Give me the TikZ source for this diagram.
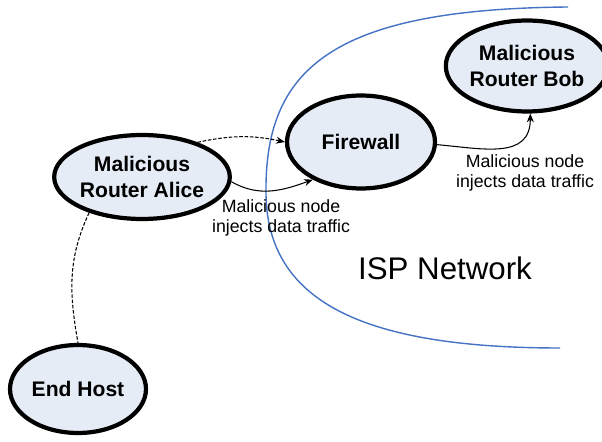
\documentclass[tikz,border=0pt]{standalone}
\usepackage{fontspec}
\setmainfont{Liberation Sans}
\usetikzlibrary{arrows.meta, shapes.geometric, positioning}
\definecolor{routerfill}{RGB}{230,236,246}
\definecolor{ispblue}{RGB}{68,114,196}

\begin{document}
\begin{tikzpicture}
			[x=0.02cm, y=-0.02cm,
			router/.style={ellipse, draw, line width=2.4pt, fill=routerfill, inner sep=0pt, align=center, font=\fontsize{12}{14.8}\selectfont\bfseries},
			link/.style={line width=0.6pt, -{Stealth[length=5pt, width=4pt]}},
			note/.style={align=center, font=\fontsize{10.1}{11}\selectfont}]
			\useasboundingbox (0,0) rectangle (602,442);
			
			% network boundary
			\draw[ispblue, line width=0.8pt] (568,7) .. controls (330,9) and (264,70) .. (266,195) .. controls (268,300) and (360,348) .. (560,348);
			\node at (445,268) (isp) {\fontsize{17.8}{20}\selectfont ISP Network};
			
			\node[router, minimum width=3.3cm, minimum height=1.68cm] at (142,177) (alice) {Malicious\\Router Alice};
			\node[router, minimum width=2.96cm, minimum height=1.86cm] at (361,142) (firewall) {Firewall};
			\node[router, minimum width=2.82cm, minimum height=1.82cm] at (527,66) (bob) {Malicious\\Router Bob};
			\node[router, minimum width=2.72cm, minimum height=1.76cm] at (78,389) (host) {End Host};
			
			\draw[link, dashed, dash pattern=on 2pt off 1pt] (alice.32) to[out=12, in=168] (firewall.west);
			\draw[link] (alice.-3) to[out=-30, in=200] (firewall.218);
			\draw[link] (firewall.-2) to[out=-5, in=-90, looseness=1.2] (bob.-86);
			\draw[line width=0.6pt, dashed, dash pattern=on 2pt off 1pt] (alice.214) to[out=245, in=100] (host.north);
			
			\node[note] at (281,218) (lblleft) {Malicious node\\injects data traffic};
			\node[note] at (525,173) (lblright) {Malicious node\\injects data traffic};
			\end{tikzpicture}
\end{document}
